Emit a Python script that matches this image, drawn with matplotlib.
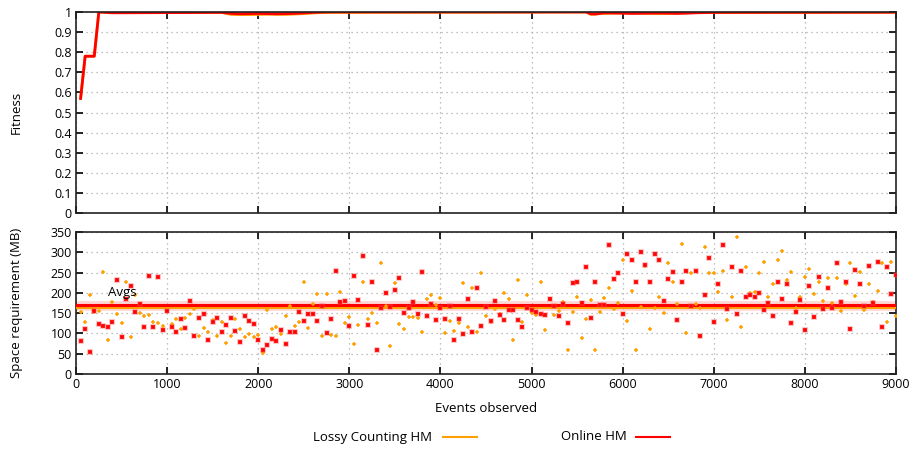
import numpy as np
import matplotlib
matplotlib.use('Agg')
import matplotlib.pyplot as plt
from matplotlib.lines import Line2D

plt.rcParams['font.family'] = ['Open Sans', 'DejaVu Sans']
plt.rcParams['font.size'] = 9

# events observed (every 50 events)
events = list(range(50, 9001, 50))

# space requirement samples (MB)
online_space = [81, 112, 53, 155, 124, 119, 117, 129, 232, 91, 184, 217, 154, 172, 115, 241, 117, 238, 108, 156,
                115, 103, 136, 113, 180, 93, 138, 147, 84,
                128, 139, 104, 120, 137, 107, 80, 144, 131, 123, 85,
                59, 71, 87, 81, 109, 73, 103, 104, 153, 131,
                149, 147, 131, 168, 102, 135, 254, 178, 181, 118,
                241, 183, 292, 122, 226, 58, 163, 199, 164, 206,
                236, 151, 162, 178, 149, 252, 144, 173, 133, 163,
                135, 168, 85, 136, 99, 186, 103, 211, 118, 166,
                131, 179, 145, 133, 157, 157, 132, 117, 163, 157,
                153, 149, 146, 186, 168, 142, 172, 126, 224, 227,
                174, 263, 137, 226, 170, 169, 318, 234, 250, 147,
                295, 282, 226, 300, 268, 227, 297, 282, 179, 234,
                252, 133, 226, 254, 167, 253, 94, 194, 285, 129,
                221, 319, 161, 263, 147, 254, 191, 195, 190, 200,
                157, 175, 143, 227, 186, 222, 126, 154, 183, 108,
                216, 140, 238, 161, 211, 163, 273, 177, 228, 112,
                257, 223, 167, 265, 176, 275, 115, 264, 198, 245]

lossy_space = [152, 128, 195, 154, 155, 251, 85, 178, 149, 125, 226, 90, 195, 151, 144, 145, 128, 126, 118, 155,
               124, 136, 110, 139, 149, 159, 94, 114, 104,
               134, 94, 128, 76, 94, 136, 112, 92, 99, 90, 97,
               51, 158, 112, 116, 99, 144, 168, 119, 129, 228,
               114, 172, 198, 94, 197, 97, 93, 201, 125, 140,
               75, 120, 226, 135, 150, 125, 274, 168, 69, 225,
               124, 112, 140, 141, 137, 103, 186, 195, 171, 187,
               102, 130, 107, 125, 224, 117, 213, 103, 250, 142,
               127, 160, 148, 200, 185, 85, 232, 129, 194, 150,
               146, 228, 108, 184, 146, 155, 178, 58, 152, 189,
               89, 135, 183, 58, 152, 188, 212, 160, 176, 282,
               131, 205, 59, 165, 265, 111, 163, 190, 150, 273,
               226, 172, 320, 102, 248, 172, 163, 312, 250, 250,
               201, 254, 134, 189, 337, 116, 264, 199, 203, 250,
               277, 190, 222, 282, 303, 231, 251, 163, 191, 239,
               259, 198, 227, 179, 236, 175, 237, 156, 221, 274,
               193, 252, 157, 222, 177, 205, 273, 127, 277, 143]

avg_online = 171
avg_lossy = 166

# fitness curves
fit_x_online = [50, 100, 200, 250, 400, 1600, 1700, 1800, 2000, 2200, 2400, 2600, 2800,
                5600, 5650, 5700, 5800, 6000, 6100, 6400, 6600, 6800, 7000, 9000]
fit_online = [0.57, 0.78, 0.78, 1.0, 0.996, 0.998, 0.993, 0.991, 0.993, 0.991, 0.993, 0.998, 1.0,
              1.0, 0.991, 0.99, 0.996, 0.994, 0.993, 0.995, 0.993, 0.996, 0.998, 0.999]
fit_x_lossy = [50, 100, 200, 250, 400, 1600, 1700, 1900, 2100, 2300, 2500, 2700,
               5600, 5650, 5750, 6000, 6400, 6800, 9000]
fit_lossy = [0.57, 0.78, 0.78, 1.0, 0.998, 0.998, 0.988, 0.987, 0.989, 0.988, 0.992, 0.998,
             1.0, 0.988, 0.992, 0.996, 0.992, 0.997, 0.999]

RED = '#ff0000'
ORANGE = '#ffa000'


def style(ax):
  for s in ax.spines.values():
    s.set_linewidth(1.2)
    s.set_color('#222222')
  ax.tick_params(direction='in', length=5, width=1.2, top=True, right=True, pad=3)
  ax.grid(True, linestyle=(0, (1, 3)), color='#aaaaaa', linewidth=0.9)
  ax.set_xlim(0, 9000)
  ax.set_xticks(range(0, 9001, 1000))


fig = plt.figure(figsize=(9.14, 4.5), dpi=100)
ax1 = fig.add_axes([0.0832, 0.5267, 0.8971, 0.4466])
ax2 = fig.add_axes([0.0832, 0.1689, 0.8971, 0.3155])

# fitness
style(ax1)
ax1.plot(fit_x_lossy, fit_lossy, color=ORANGE, lw=2)
ax1.plot(fit_x_online, fit_online, color=RED, lw=2)
ax1.set_ylim(0, 1)
ax1.set_yticks(np.arange(0, 1.01, 0.1))
ax1.set_yticklabels(['0', '0.1', '0.2', '0.3', '0.4', '0.5', '0.6', '0.7', '0.8', '0.9', '1'])
ax1.set_xticklabels([])
ax1.set_ylabel('Fitness', fontsize=9.5)
ax1.yaxis.set_label_coords(-0.065, 0.5)

# space
style(ax2)
ax2.axhline((avg_online + avg_lossy) / 2, color='#ff9999', lw=7, alpha=0.4, zorder=2)
ax2.axhline(avg_lossy, color=ORANGE, lw=2.2, zorder=3)
ax2.axhline(avg_online, color=RED, lw=2.2, zorder=3)
ax2.plot(events, lossy_space, ls='none', marker='+', ms=3, mew=1.1, color=ORANGE, zorder=4)
ax2.plot(events, online_space, ls='none', marker='s', ms=2.2, mfc=RED, mec=(1, 0.3, 0.3, 0.4),
         mew=1.2, zorder=5)
ax2.text(350, 192, 'Avgs', fontsize=9.5, zorder=6)
ax2.set_ylim(0, 350)
ax2.set_yticks(range(0, 351, 50))
ax2.set_xlabel('Events observed', labelpad=8, fontsize=9.5)
ax2.set_ylabel('Space requirement (MB)', fontsize=9.5)
ax2.yaxis.set_label_coords(-0.065, 0.5)

# legend
ly = 1 - 437 / 450
fig.text(432 / 914, ly, 'Lossy Counting HM', ha='right', va='center', fontsize=9.5)
fig.add_artist(Line2D([443 / 914, 477 / 914], [ly, ly], color=ORANGE, lw=1.5))
fig.text(627 / 914, ly, 'Online HM', ha='right', va='center', fontsize=9.5)
fig.add_artist(Line2D([636 / 914, 670 / 914], [ly, ly], color=RED, lw=1.5))

fig.savefig('out.png', dpi=100)
